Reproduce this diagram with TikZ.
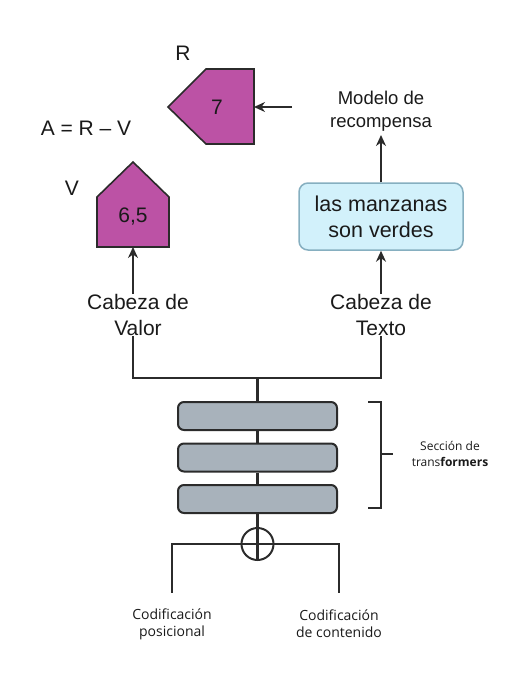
\documentclass[tikz,border=0pt]{standalone}
\usepackage{fontspec}
\setmainfont{Liberation Sans}
\newfontfamily\osans{Open Sans}
\usetikzlibrary{arrows.meta}
\definecolor{lineC}{HTML}{2B2B2B}
\definecolor{txtC}{HTML}{1A1A1A}
\definecolor{magC}{HTML}{BC52A5}
\definecolor{boxFill}{HTML}{D2F1FB}
\definecolor{boxDraw}{HTML}{86AFC0}
\definecolor{blockFill}{HTML}{A8B2BB}
\begin{document}
\begin{tikzpicture}[x=1pt,y=-1pt,
  conn/.style={draw=lineC, line width=2.1pt},
  arr/.style={conn, -{Stealth[length=11pt,width=10pt]}},
  lbl/.style={font=\fontsize{21}{26}\selectfont, text=txtC, align=center, inner sep=0pt},
  biglbl/.style={font=\fontsize{21}{26}\selectfont, text=txtC, align=center, inner sep=0pt},
  midlbl/.style={font=\fontsize{18.5}{23}\selectfont, text=txtC, align=center, inner sep=0pt},
  smalllbl/.style={font=\osans\fontsize{14}{17}\selectfont, text=txtC, align=center, inner sep=0pt},
  tinylbl/.style={font=\osans\fontsize{12}{16}\selectfont, text=txtC, align=center, inner sep=0pt},
  pent/.style={draw=lineC, line width=1.6pt, fill=magC},
  textbox/.style={draw=boxDraw, line width=1.5pt, fill=boxFill, rounded corners=9pt,
    minimum width=164pt, minimum height=67pt, inner sep=0pt, align=center,
    font=\fontsize{21.5}{26}\selectfont, text=txtC},
  block/.style={draw=lineC, line width=2pt, fill=blockFill, rounded corners=6pt,
    minimum width=159pt, minimum height=28pt, inner sep=0pt},
  plusnode/.style={circle, draw=lineC, line width=2pt, minimum size=32pt, inner sep=0pt}
]
\useasboundingbox (0,0) rectangle (512,686);

% R pentagon
\draw[pent] (168,107) -- (206,69) -- (254,69) -- (254,144) -- (206,144) -- cycle;
\node[biglbl] (rval) at (217,107) {7};
\node[biglbl] (rlab) at (183,53) {R};
\coordinate (rin) at (292,107);
\coordinate (redge) at (254,107);
\draw[arr] (rin) -- (redge);

\node[biglbl] (adv) at (86,128) {A = R – V};

% V pentagon
\draw[pent] (133,162) -- (169,197) -- (169,247) -- (97,247) -- (97,197) -- cycle;
\node[biglbl] (vval) at (133,217) {6,5};
\node[biglbl] (vlab) at (72,188) {V};
\coordinate (vb) at (133,247);

% heads
\node[lbl] (cv) at (138,315) {Cabeza de\\Valor};
\node[lbl] (ct) at (381,315) {Cabeza de\\Texto};
\draw[arr] (cv.north -| vb) -- (vb);

\node[textbox] (tb) at (381,216.5) {las manzanas\\son verdes};
\draw[arr] (ct.north -| tb) -- (tb.south);

\node[midlbl] (mr) at (381,111) {Modelo de\\recompensa};
\coordinate (mrb) at (381,135);
\draw[arr] (tb.north) -- (mrb);

% junction
\coordinate (jl) at (133,378);
\coordinate (jr) at (381,378);
\coordinate (jc) at (257.5,378);
\draw[conn] (cv.south -| jl) -- (jl) -- (jr) -- (ct.south -| jr);

% transformer blocks
\node[block] (b1) at (257.5,416) {};
\node[block] (b2) at (257.5,457.5) {};
\node[block] (b3) at (257.5,499) {};
\draw[conn] (jc) -- (b1.north);
\draw[conn] (b1.south) -- (b2.north);
\draw[conn] (b2.south) -- (b3.north);

% bracket
\draw[conn, line width=1.8pt] (368,402) -- (381,402) -- (381,508) -- (368,508);
\draw[conn, line width=1.8pt] (381,454) -- (393,454);
\node[tinylbl] (sec) at (450,454) {Sección de\\trans\textbf{formers}};

% plus
\node[plusnode] (plus) at (257.5,544) {};
\draw[conn] (b3.south) -- (plus.north);
\draw[conn] (plus.north) -- (plus.south);
\draw[conn] (plus.west) -- (plus.east);
\coordinate (pl) at (172,593);
\coordinate (pr) at (339,593);
\draw[conn] (plus.west) -| (pl);
\draw[conn] (plus.east) -| (pr);
\node[smalllbl] (cp) at (172,624) {Codificación\\posicional};
\node[smalllbl] (cc) at (339,624) {Codificación\\de contenido};
\end{tikzpicture}
\end{document}
